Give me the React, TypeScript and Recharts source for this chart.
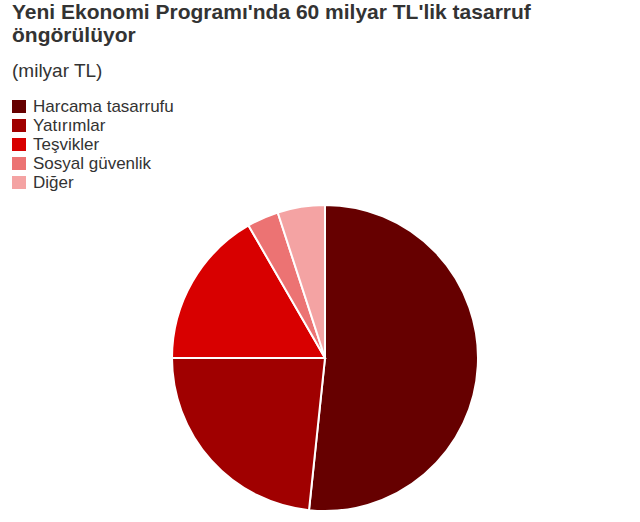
import React from "react";
import { PieChart, Pie, Cell } from "recharts";

const categories = [
  "Harcama tasarrufu",
  "Yatırımlar",
  "Teşvikler",
  "Sosyal güvenlik",
  "Diğer",
];
const values = [31, 14, 10, 2, 3];
const colors = ["#660000", "#a00000", "#d80000", "#ec7373", "#f4a3a3"];

const titleLines = ["Yeni Ekonomi Programı'nda 60 milyar TL'lik tasarruf", "öngörülüyor"];
const subtitle = "(milyar TL)";

const data = categories.map((name, i) => ({ name, value: values[i] }));

const font = "Arial, 'Liberation Sans', sans-serif";

export default function App() {
  return (
    <div
      style={{
        position: "absolute",
        left: 0,
        top: 0,
        width: 640,
        height: 522,
        background: "#fff",
        fontFamily: font,
      }}
    >
      <div
        style={{
          position: "absolute",
          left: 12,
          top: 0,
          fontSize: 21,
          fontWeight: "bold",
          color: "#333",
          lineHeight: "23px",
          whiteSpace: "nowrap",
        }}
      >
        {titleLines.map((t) => (
          <div key={t}>{t}</div>
        ))}
      </div>
      <div
        style={{
          position: "absolute",
          left: 12,
          top: 60,
          fontSize: 19,
          lineHeight: "22px",
          color: "#333",
        }}
      >
        {subtitle}
      </div>
      <div style={{ position: "absolute", left: 12, top: 97 }}>
        {categories.map((c, i) => (
          <div
            key={c}
            style={{ display: "flex", alignItems: "center", height: 19 }}
          >
            <span
              style={{
                display: "inline-block",
                width: 14,
                height: 13,
                background: colors[i],
                marginRight: 7,
              }}
            />
            <span style={{ fontSize: 17, lineHeight: "19px", color: "#333" }}>
              {c}
            </span>
          </div>
        ))}
      </div>
      <PieChart
        width={640}
        height={522}
        margin={{ top: 0, right: 0, bottom: 0, left: 0 }}
      >
        <Pie
          data={data}
          dataKey="value"
          nameKey="name"
          cx={325}
          cy={358}
          outerRadius={153}
          startAngle={90}
          endAngle={-270}
          stroke="#fff"
          strokeWidth={2}
          isAnimationActive={false}
        >
          {data.map((d, i) => (
            <Cell key={d.name} fill={colors[i]} />
          ))}
        </Pie>
      </PieChart>
    </div>
  );
}
